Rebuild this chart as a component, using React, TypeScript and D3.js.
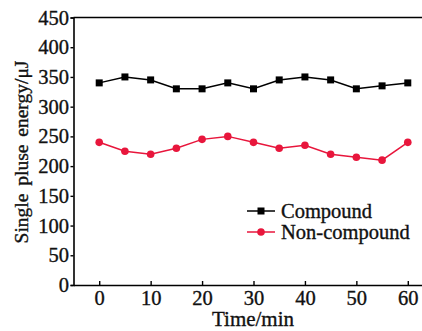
import React, { useEffect, useRef } from "react";
import * as d3 from "d3";

const times = [0, 5, 10, 15, 20, 25, 30, 35, 40, 45, 50, 55, 60];
const compound = [340, 350, 345, 330, 330, 340, 330, 345, 350, 345, 330, 335, 340];
const nonCompound = [240, 225, 220, 230, 245, 250, 240, 230, 235, 220, 215, 210, 240];
const xTicks = [0, 10, 20, 30, 40, 50, 60];
const yTicks = [0, 50, 100, 150, 200, 250, 300, 350, 400, 450];
const seriesNames = ["Compound", "Non-compound"];

const App: React.FC = () => {
    const svgRef = useRef<SVGSVGElement | null>(null);

    useEffect(() => {
        const width = 422;
        const height = 331;
        const font = "'Liberation Serif', 'Times New Roman', serif";
        const red = "#e8163c";
        const ink = "#111";

        const svg = d3.select(svgRef.current);
        svg.selectAll("*").remove();
        svg.attr("width", width).attr("height", height);

        // scales (plot continues past the right edge of the picture)
        const x = d3.scaleLinear().domain([-5, 65]).range([73.5, 433.5]);
        const y = d3.scaleLinear().domain([0, 450]).range([285, 17.5]);

        // slightly heavier text, like the scanned figure
        const styleText = (sel: any, size: number) =>
            sel.style("font-family", font)
                .style("font-size", `${size}px`)
                .attr("fill", ink)
                .attr("stroke", ink)
                .attr("stroke-width", 0.35);

        // frame: top line
        svg.append("line")
            .attr("x1", x(-5)).attr("x2", x(65))
            .attr("y1", y(450)).attr("y2", y(450))
            .attr("stroke", "#000").attr("stroke-width", 1.6);

        // y axis (ticks outward)
        const yAxis = svg.append("g")
            .attr("transform", `translate(${x(-5)},0)`)
            .call(d3.axisLeft(y).tickValues(yTicks).tickSize(3).tickPadding(1.5));
        yAxis.select(".domain").attr("stroke-width", 1.6);
        yAxis.selectAll("line").attr("stroke-width", 1.4);
        styleText(yAxis.selectAll("text"), 20.5);

        // x axis (ticks inward)
        const xAxis = svg.append("g")
            .attr("transform", `translate(0,${y(0)})`)
            .call(d3.axisBottom(x).tickValues(xTicks).tickSizeInner(-4).tickSizeOuter(0).tickPadding(5.5));
        xAxis.select(".domain").attr("stroke-width", 1.6);
        xAxis.selectAll("line").attr("stroke-width", 1.4);
        styleText(xAxis.selectAll("text"), 20.5);

        // axis titles
        styleText(
            svg.append("text")
                .attr("x", 253).attr("y", 326)
                .attr("text-anchor", "middle")
                .text("Time/min"),
            21
        );

        styleText(
            svg.append("text")
                .attr("transform", `translate(28,152) rotate(-90)`)
                .attr("text-anchor", "middle")
                .style("word-spacing", "3px")
                .text("Single pluse energy/μJ"),
            19.5
        );

        const line = d3.line<number>()
            .x((_, i) => x(times[i]))
            .y((d) => y(d));

        // compound series
        svg.append("path")
            .datum(compound)
            .attr("d", line)
            .attr("fill", "none")
            .attr("stroke", "#000")
            .attr("stroke-width", 1.5);
        svg.selectAll(".sq")
            .data(compound)
            .enter()
            .append("rect")
            .attr("x", (_, i) => x(times[i]) - 3.5)
            .attr("y", (d) => y(d) - 3.5)
            .attr("width", 7)
            .attr("height", 7)
            .attr("fill", "#000");

        // non-compound series
        svg.append("path")
            .datum(nonCompound)
            .attr("d", line)
            .attr("fill", "none")
            .attr("stroke", red)
            .attr("stroke-width", 1.5);
        svg.selectAll(".dot")
            .data(nonCompound)
            .enter()
            .append("circle")
            .attr("cx", (_, i) => x(times[i]))
            .attr("cy", (d) => y(d))
            .attr("r", 3.8)
            .attr("fill", red);

        // legend
        const legend = svg.append("g").attr("transform", "translate(247,211)");
        seriesNames.forEach((name, i) => {
            const g = legend.append("g").attr("transform", `translate(0,${i * 21})`);
            const color = i === 0 ? "#000" : red;
            g.append("line")
                .attr("x1", 0).attr("x2", 28)
                .attr("y1", 0).attr("y2", 0)
                .attr("stroke", color).attr("stroke-width", 1.5);
            if (i === 0) {
                g.append("rect").attr("x", 10.5).attr("y", -3.5)
                    .attr("width", 7).attr("height", 7).attr("fill", color);
            } else {
                g.append("circle").attr("cx", 14).attr("cy", 0)
                    .attr("r", 3.8).attr("fill", color);
            }
            styleText(
                g.append("text")
                    .attr("x", 34).attr("y", 6.5)
                    .text(name),
                20.5
            );
        });
    }, []);

    return (
        <div style={{ position: "absolute", left: 0, top: 0 }}>
            <svg ref={svgRef} style={{ display: "block", background: "#fff" }} />
        </div>
    );
};

export default App;
